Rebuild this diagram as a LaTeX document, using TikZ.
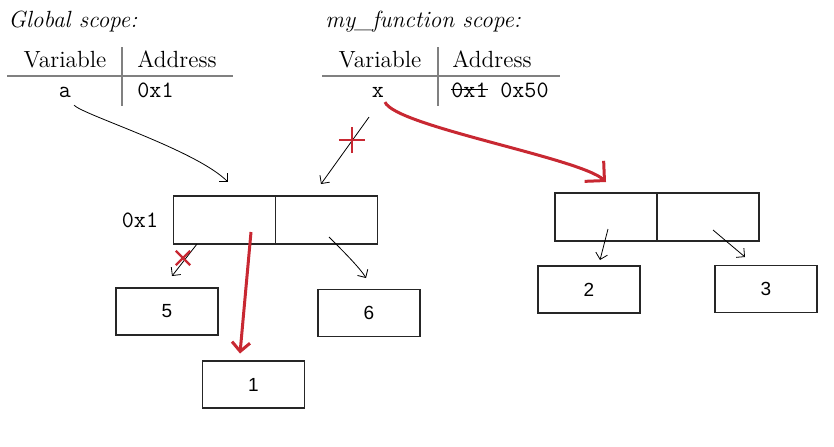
\documentclass[tikz,border=0pt]{standalone}
\usepackage{fontspec}
\usepackage{tikz}
\newfontfamily\boxfont{Liberation Sans}
\usetikzlibrary{positioning,arrows.meta,shapes.misc}
\definecolor{markred}{RGB}{200,40,50}
\tikzset{
    scope-title/.style = {anchor=base west, inner xsep=0pt, font=\fontsize{11.7}{14}\itshape},
    table-text/.style = {anchor=base, inner xsep=0pt, font=\fontsize{11.7}{14}\selectfont},
    table-code/.style = {anchor=base, inner xsep=0pt, font=\fontsize{11.7}{14}\ttfamily},
    table-rule/.style = {draw=black!50, line width=0.7pt},
    mem-cell/.style = {draw=black!85, line width=0.6pt, rectangle, minimum width=51pt, minimum height=24pt, inner sep=0pt, outer sep=0pt},
    val-box/.style = {mem-cell, minimum height=23.5pt, font=\boxfont\fontsize{9.5}{11}\selectfont},
    ptr/.style = {-{Straight Barb[length=3pt,width=6pt]}, line width=0.4pt},
    new-ptr/.style = {-{Straight Barb[length=7pt,width=14pt]}, draw=markred, line width=1.5pt},
    cut/.style = {cross out, draw=markred, line width=1.2pt, minimum size=6pt, inner sep=0pt},
}

\begin{document}
\begin{tikzpicture}[x=0.5pt, y=0.5pt]
\useasboundingbox (0,0) rectangle (834,-446);
\node[scope-title] (gtitle) at (8,-27) {Global scope:};
\node[scope-title] (ftitle) at (325,-27) {my\_function scope:};
\node[table-text] (gvarhead) at (65,-67) {Variable};
\node[table-text, anchor=base west] (gaddrhead) at (137,-67) {Address};
\node[table-code] (avar) at (65,-97) {a};
\node[table-code, anchor=base west] (aaddr) at (137,-97) {0x1};
\draw[table-rule] (7,-76) -- (233,-76);
\draw[table-rule] (122,-47) -- (122,-106);
\node[table-text] (fvarhead) at (380,-67) {Variable};
\node[table-text, anchor=base west] (faddrhead) at (452,-67) {Address};
\node[table-code] (xvar) at (378,-97) {x};
\node[table-code, anchor=base west] (xold) at (451,-97) {0x1};
\node[table-code, base right=6pt of xold] (xaddr) {0x50};
\draw[line width=0.6pt] (xold.west) -- (xold.east);
\draw[table-rule] (322,-76) -- (560,-76);
\draw[table-rule] (438,-47) -- (438,-106);

\node[mem-cell] (lcell1) at (224.5,-220) {};
\node[mem-cell, right=0pt of lcell1] (lcell2) {};
\node[table-code, left=7.5pt of lcell1] (laddr) {0x1};
\node[val-box] (val5) at (167,-311.5) {5};
\node[val-box] (val6) at (369,-313) {6};
\node[val-box] (val1) at (253.5,-384.5) {1};
\node[mem-cell] (rcell1) at (606,-217) {};
\node[mem-cell, right=0pt of rcell1] (rcell2) {};
\node[val-box] (val2) at (589,-289.5) {2};
\node[val-box] (val3) at (766,-289) {3};

\draw[ptr] ([xshift=4.5pt,yshift=-0.5pt]avar.south) .. controls +(10,-10) and +(-32,32) .. ([xshift=1.75pt,yshift=7pt]lcell1.north);
\draw[ptr] ([xshift=-4.5pt,yshift=-6.5pt]xvar.south) -- ([xshift=-2.75pt,yshift=6pt]lcell2.north);
\node[cut, rotate=45, minimum size=7.8pt, line width=1.4pt] (xcut) at (352,-140) {};
\draw[new-ptr] ([xshift=3.5pt,yshift=1pt]xvar.south) .. controls +(10,-24) and +(-26,24) .. ([yshift=5.5pt]rcell1.north);
\draw[ptr] ([xshift=-13.75pt]lcell1.south) -- ([xshift=2.5pt,yshift=6pt]val5.north);
\node[cut] (acut) at (183,-258) {};
\draw[new-ptr, -{Straight Barb[length=4.5pt,width=9pt]}] ([xshift=13.25pt,yshift=6pt]lcell1.south) -- ([xshift=-6.75pt,yshift=3.75pt]val1.north);
\draw[ptr] ([xshift=1.25pt,yshift=-8.5pt]lcell2.center) .. controls +(15,-15) and +(-6,10) .. ([xshift=-1.5pt,yshift=5.75pt]val6.north);
\draw[ptr] ([xshift=1pt,yshift=-6pt]rcell1.center) -- ([xshift=5.5pt,yshift=3pt]val2.north);
\draw[ptr] ([xshift=2.5pt,yshift=-6.5pt]rcell2.center) -- ([xshift=-10.5pt,yshift=4.25pt]val3.north);
\end{tikzpicture}
\end{document}
